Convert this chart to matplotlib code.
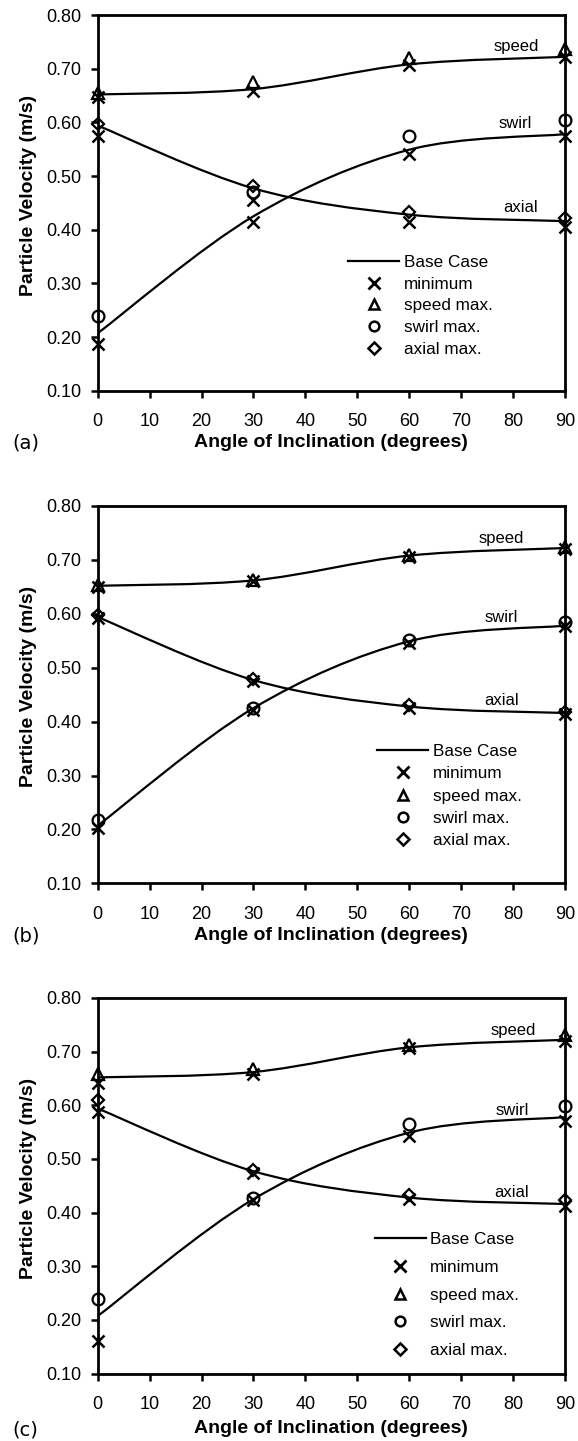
import matplotlib
matplotlib.use("Agg")
import matplotlib.pyplot as plt
from matplotlib.path import Path
from matplotlib.patches import PathPatch
from matplotlib.lines import Line2D
import numpy as np

plt.rcParams['font.family'] = ['Liberation Sans', 'DejaVu Sans']

angles = [0, 30, 60, 90]
x_ticks = [0, 10, 20, 30, 40, 50, 60, 70, 80, 90]
y_ticks = [0.10, 0.20, 0.30, 0.40, 0.50, 0.60, 0.70, 0.80]

# Base case (smoothed lines)
base_speed = [0.652, 0.662, 0.708, 0.722]
base_swirl = [0.207, 0.425, 0.549, 0.578]
base_axial = [0.594, 0.477, 0.428, 0.416]

# Panel (a)
a_speed_max = [0.654, 0.676, 0.719, 0.736]
a_swirl_max = [0.239, 0.470, 0.574, 0.604]
a_axial_max = [0.597, 0.481, 0.433, 0.422]
a_min_speed = [0.648, 0.659, 0.707, 0.721]
a_min_swirl = [0.187, 0.415, 0.541, 0.574]
a_min_axial = [0.574, 0.455, 0.414, 0.405]

# Panel (b)
b_speed_max = [0.653, 0.663, 0.710, 0.724]
b_swirl_max = [0.217, 0.426, 0.552, 0.585]
b_axial_max = [0.597, 0.479, 0.430, 0.418]
b_min_speed = [0.650, 0.660, 0.706, 0.721]
b_min_swirl = [0.202, 0.422, 0.546, 0.577]
b_min_axial = [0.592, 0.475, 0.426, 0.414]

# Panel (c)
c_speed_max = [0.659, 0.667, 0.712, 0.731]
c_swirl_max = [0.238, 0.428, 0.565, 0.598]
c_axial_max = [0.609, 0.480, 0.432, 0.423]
c_min_speed = [0.642, 0.658, 0.707, 0.720]
c_min_swirl = [0.161, 0.423, 0.543, 0.571]
c_min_axial = [0.587, 0.473, 0.425, 0.413]

series_labels = ["speed", "swirl", "axial"]
legend_labels = ["Base Case", "minimum", "speed max.", "swirl max.", "axial max."]
panel_tags = ["(a)", "(b)", "(c)"]

panels = [
    dict(speed_max=a_speed_max, swirl_max=a_swirl_max, axial_max=a_axial_max,
         mins=[a_min_speed, a_min_swirl, a_min_axial]),
    dict(speed_max=b_speed_max, swirl_max=b_swirl_max, axial_max=b_axial_max,
         mins=[b_min_speed, b_min_swirl, b_min_axial]),
    dict(speed_max=c_speed_max, swirl_max=c_swirl_max, axial_max=c_axial_max,
         mins=[c_min_speed, c_min_swirl, c_min_axial]),
]

# layout (pixel-based)
W, H = 578, 1441
ax_left_px, ax_right_px = 97.7, 565.0
ax_tops = [15.0, 506.0, 998.0]
ax_bots = [390.7, 883.3, 1373.5]
label_offsets = [51.5, 52.0, 55.0]
label_x_pos = [(80.7, 0.742, 80.5, 0.597, 81.5, 0.442),
               (77.8, 0.739, 77.8, 0.593, 77.8, 0.440),
               (80.0, 0.739, 79.8, 0.590, 79.8, 0.438)]
legend_anchor = [(0.536, 0.362), (0.598, 0.369), (0.593, 0.377)]
legend_spacing = [0.40, 0.43, 0.75]


def smooth_path(xs, ys):
    pts = np.column_stack([xs, ys]).astype(float)
    n = len(pts)
    verts = [pts[0]]
    codes = [Path.MOVETO]
    for i in range(n - 1):
        p0 = pts[i - 1] if i > 0 else pts[i]
        p1 = pts[i]
        p2 = pts[i + 1]
        p3 = pts[i + 2] if i + 2 < n else pts[i + 1]
        c1 = p1 + (p2 - p0) / 6.0
        c2 = p2 - (p3 - p1) / 6.0
        verts += [c1, c2, p2]
        codes += [Path.CURVE4] * 3
    return Path(verts, codes)


fig = plt.figure(figsize=(W / 100, H / 100), dpi=100)

for k, pdata in enumerate(panels):
    top, bot = ax_tops[k], ax_bots[k]
    hpx = bot - top
    ax = fig.add_axes([ax_left_px / W, 1 - bot / H,
                       (ax_right_px - ax_left_px) / W, hpx / H])
    for base in (base_speed, base_swirl, base_axial):
        ax.add_patch(PathPatch(smooth_path(angles, base), facecolor='none',
                               edgecolor='black', lw=1.6, zorder=2))
    mk = dict(color='black', linestyle='none', clip_on=False, zorder=3,
              markerfacecolor='none', markeredgecolor='black')
    for mins in pdata['mins']:
        ax.plot(angles, mins, marker='x', markersize=8, markeredgewidth=1.8, **mk)
    ax.plot(angles, pdata['speed_max'], marker='^', markersize=8, markeredgewidth=1.6, **mk)
    ax.plot(angles, pdata['swirl_max'], marker='o', markersize=8.5, markeredgewidth=1.6, **mk)
    ax.plot(angles, pdata['axial_max'], marker='D', markersize=6.5, markeredgewidth=1.6, **mk)

    lx = label_x_pos[k]
    for (tx, ty), name in zip([(lx[0], lx[1]), (lx[2], lx[3]), (lx[4], lx[5])], series_labels):
        ax.text(tx, ty, name, ha='center', va='center', fontsize=12)

    ax.set_xlim(0, 90)
    ax.set_ylim(0.10, 0.80)
    ax.set_xticks(x_ticks)
    ax.set_yticks(y_ticks)
    ax.set_yticklabels([f"{v:.2f}" for v in y_ticks])
    for s in ax.spines.values():
        s.set_linewidth(2.0)
    ax.tick_params(axis='both', direction='out', length=5, width=1.8,
                   labelsize=13, top=False, right=False)
    ax.tick_params(axis='x', pad=11)
    ax.tick_params(axis='y', pad=7)

    ax.set_xlabel("Angle of Inclination (degrees)", fontsize=14, fontweight='bold', va='center')
    ax.xaxis.set_label_coords(0.5, -label_offsets[k] / hpx)
    ax.set_ylabel("Particle Velocity (m/s)", fontsize=14, fontweight='bold', va='center')
    ax.yaxis.set_label_coords((28.5 - ax_left_px) / (ax_right_px - ax_left_px),
                              (bot - 195.0 - (top - 15.0)) / hpx)

    handles = [
        Line2D([], [], color='black', lw=1.6),
        Line2D([], [], color='black', marker='x', linestyle='none', markersize=8, markeredgewidth=2.0),
        Line2D([], [], color='black', marker='^', linestyle='none', markersize=7, markeredgewidth=1.8, markerfacecolor='none'),
        Line2D([], [], color='black', marker='o', linestyle='none', markersize=7, markeredgewidth=1.8, markerfacecolor='none'),
        Line2D([], [], color='black', marker='D', linestyle='none', markersize=6, markeredgewidth=1.8, markerfacecolor='none'),
    ]
    ax.legend(handles, legend_labels, loc='upper left',
              bbox_to_anchor=legend_anchor[k], frameon=False, fontsize=12.3,
              handlelength=3.0, handletextpad=0.25, borderpad=0, borderaxespad=0,
              labelspacing=legend_spacing[k])

    fig.text(12 / W, 1 - (bot + label_offsets[k] + 1) / H, panel_tags[k], fontsize=14,
             family='DejaVu Sans', ha='left', va='center')

fig.savefig("out.png", dpi=100)
